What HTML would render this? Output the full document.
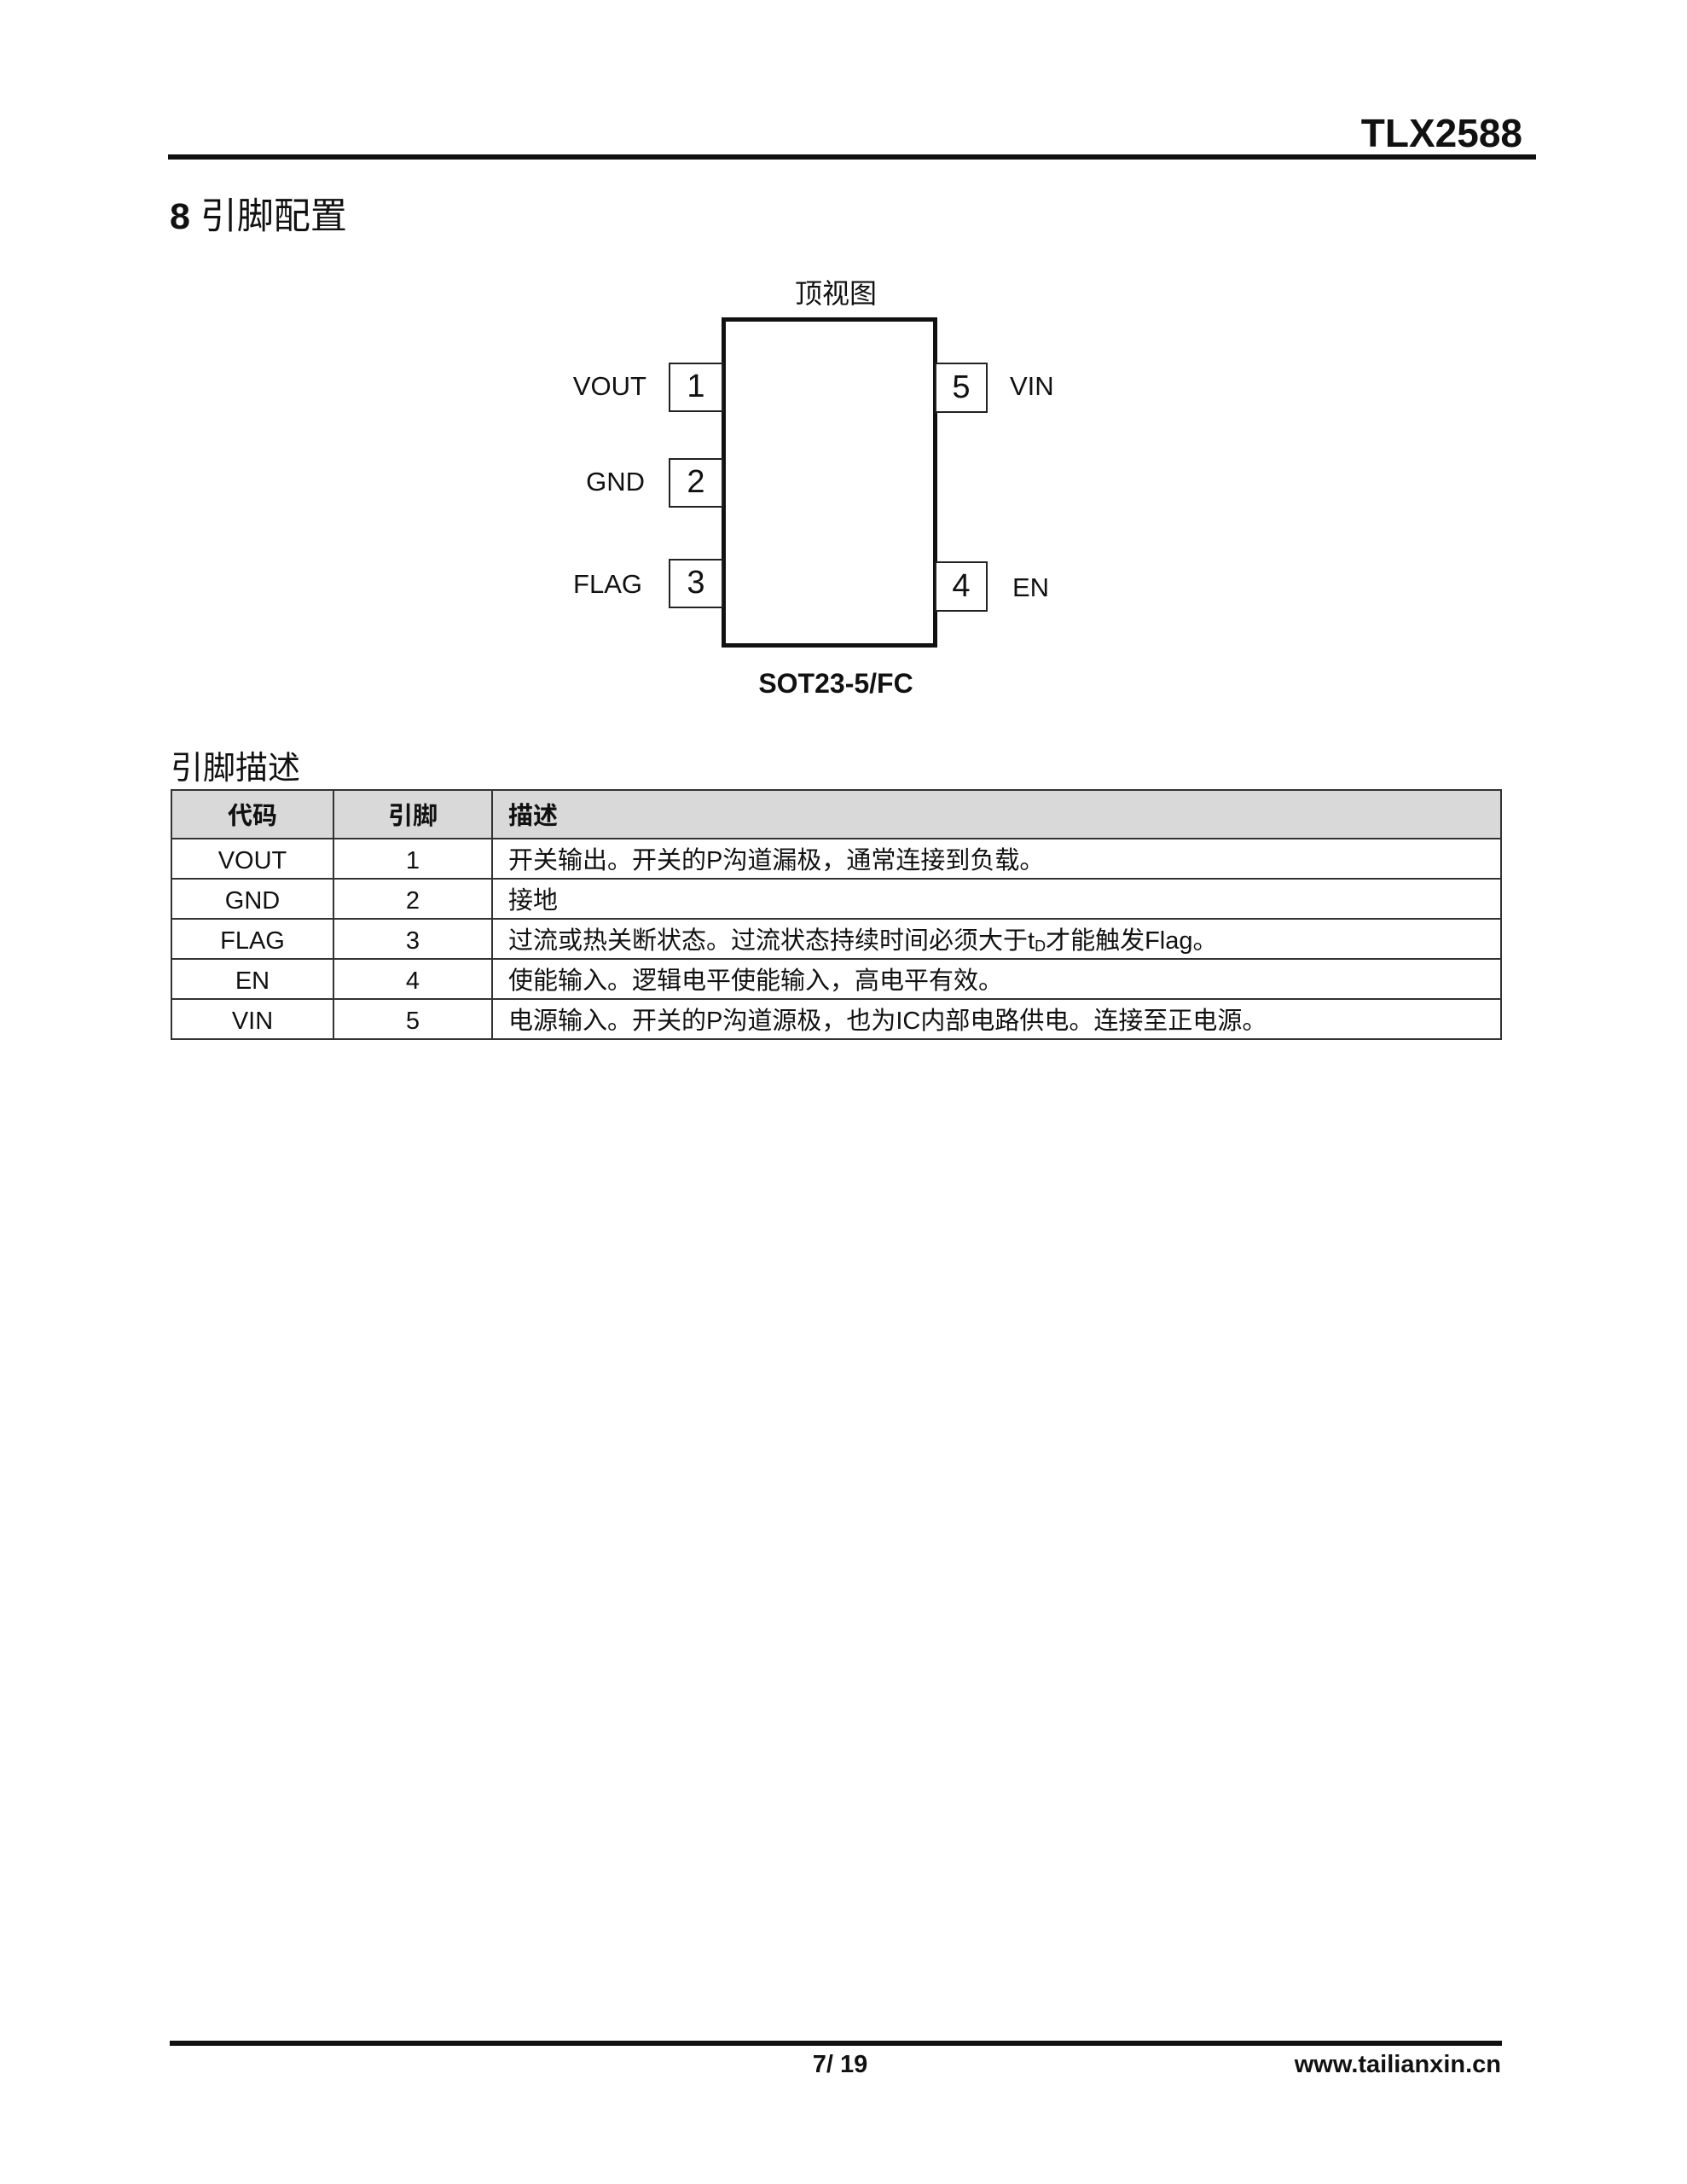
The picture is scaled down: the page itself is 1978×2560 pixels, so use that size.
<!DOCTYPE html>
<html><head><meta charset="utf-8"><style>
*{margin:0;padding:0;box-sizing:border-box}
body{width:1978px;height:2560px;background:#fff;position:relative;font-family:"Liberation Sans","Noto Sans CJK SC",sans-serif;color:#111;overflow:hidden}
.a{position:absolute;white-space:nowrap}
.pin{position:absolute;border:2.5px solid #222;background:#fff;font-size:38px;text-align:center}
.lbl{position:absolute;font-size:31px;line-height:40px}
table{position:absolute;left:200px;top:925px;width:1561px;border-collapse:collapse;font-size:29px}
td{border:2px solid #333;height:47px;padding:4px 0 0 0;text-align:center;line-height:38px}
td.d{text-align:left;padding-left:18px}
tr.h td{background:#d9d9d9;height:57px;font-weight:bold}
</style></head><body>
<div class="a" style="right:193px;top:128px;font-size:46px;font-weight:bold;line-height:56px">TLX2588</div>
<div class="a" style="left:197px;top:181px;width:1604px;height:6px;background:#111"></div>
<div class="a" style="left:199px;top:226px;font-size:43px;font-weight:bold;line-height:56px">8 <span style="font-weight:normal">引脚配置</span></div>
<div class="a" style="left:880px;top:324px;width:200px;text-align:center;font-size:32px;line-height:40px">顶视图</div>
<div class="a" style="left:846px;top:372px;width:253px;height:387px;border:5px solid #111"></div>
<div class="pin" style="left:784px;top:425px;width:64px;height:58px;line-height:52px">1</div>
<div class="pin" style="left:784px;top:537px;width:64px;height:58px;line-height:52px">2</div>
<div class="pin" style="left:784px;top:655px;width:64px;height:58px;line-height:52px">3</div>
<div class="pin" style="left:1096px;top:425px;width:62px;height:59px;line-height:54px">5</div>
<div class="pin" style="left:1096px;top:658px;width:62px;height:59px;line-height:54px">4</div>
<div class="lbl" style="right:1220px;top:433px">VOUT</div>
<div class="lbl" style="right:1222px;top:545px">GND</div>
<div class="lbl" style="right:1225px;top:665px">FLAG</div>
<div class="lbl" style="left:1184px;top:433px">VIN</div>
<div class="lbl" style="left:1187px;top:669px">EN</div>
<div class="a" style="left:830px;top:780px;width:300px;text-align:center;font-size:32px;font-weight:bold;line-height:42px">SOT23-5/FC</div>
<div class="a" style="left:200px;top:878px;font-size:38px;line-height:46px">引脚描述</div>
<table>
<tr class="h"><td style="width:190px">代码</td><td style="width:186px">引脚</td><td class="d">描述</td></tr>
<tr><td>VOUT</td><td>1</td><td class="d">开关输出。开关的P沟道漏极，通常连接到负载。</td></tr>
<tr><td>GND</td><td>2</td><td class="d">接地</td></tr>
<tr><td>FLAG</td><td>3</td><td class="d">过流或热关断状态。过流状态持续时间必须大于t<span style="font-size:18px;line-height:0;vertical-align:-3px">D</span>才能触发Flag。</td></tr>
<tr><td>EN</td><td>4</td><td class="d">使能输入。逻辑电平使能输入，高电平有效。</td></tr>
<tr><td>VIN</td><td>5</td><td class="d">电源输入。开关的P沟道源极，也为IC内部电路供电。连接至正电源。</td></tr>
</table>
<div class="a" style="left:199px;top:2392px;width:1562px;height:6px;background:#111"></div>
<div class="a" style="left:885px;top:2402px;width:200px;text-align:center;font-size:29px;font-weight:bold;line-height:36px">7/ 19</div>
<div class="a" style="right:218px;top:2402px;font-size:29px;font-weight:bold;line-height:36px">www.tailianxin.cn</div>
</body></html>
